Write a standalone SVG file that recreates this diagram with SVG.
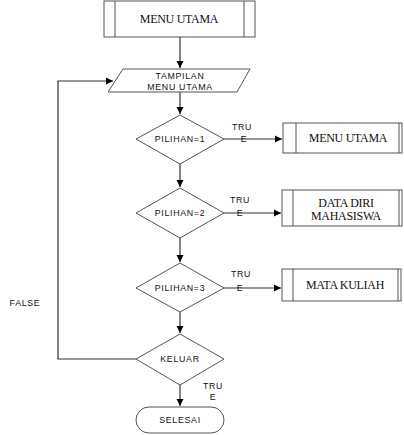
<svg xmlns="http://www.w3.org/2000/svg" width="404" height="435" viewBox="0 0 404 435">
<defs>
<marker id="ah" markerWidth="8" markerHeight="8" refX="7" refY="4" orient="auto" markerUnits="userSpaceOnUse">
<path d="M0,0.5 L7,4 L0,7.5 Z" fill="#000"/>
</marker>
<style>
.shape{fill:#fff;stroke:#555;stroke-width:1}
.ln{fill:none;stroke:#333;stroke-width:1.2}
.serif{font-family:"Liberation Serif","Times New Roman",serif;font-size:12px;fill:#111;text-anchor:middle;letter-spacing:-0.3px}
.sans{font-family:"Liberation Sans",Arial,sans-serif;font-size:8.8px;fill:#111;text-anchor:middle;letter-spacing:0.7px}
</style>
</defs>
<rect width="404" height="435" fill="#fff"/>
<g id="connectors">
<line class="ln" x1="180" y1="37" x2="180" y2="68" marker-end="url(#ah)"/>
<line class="ln" x1="180" y1="92" x2="180" y2="114" marker-end="url(#ah)"/>
<line class="ln" x1="180" y1="164" x2="180" y2="187" marker-end="url(#ah)"/>
<line class="ln" x1="180" y1="238" x2="180" y2="262" marker-end="url(#ah)"/>
<line class="ln" x1="180" y1="312" x2="180" y2="333" marker-end="url(#ah)"/>
<line class="ln" x1="180" y1="385" x2="180" y2="406" marker-end="url(#ah)"/>
<line class="ln" x1="224" y1="139" x2="282" y2="139" marker-end="url(#ah)"/>
<line class="ln" x1="224" y1="213" x2="281" y2="213" marker-end="url(#ah)"/>
<line class="ln" x1="224" y1="288" x2="281" y2="288" marker-end="url(#ah)"/>
<polyline class="ln" points="136,359 58,359 58,81 113,81" marker-end="url(#ah)"/>
<text class="sans" x="242" y="130">TRU</text>
<text class="sans" x="244" y="142">E</text>
<text class="sans" x="240" y="203">TRU</text>
<text class="sans" x="240" y="216">E</text>
<text class="sans" x="241" y="277">TRU</text>
<text class="sans" x="240" y="291">E</text>
<text class="sans" x="213" y="389">TRU</text>
<text class="sans" x="213" y="400">E</text>
<text class="sans" x="25" y="306">FALSE</text>
</g>
<g id="menu-utama-top">
<rect class="shape" x="104" y="1" width="151" height="36"/>
<line class="shape" x1="115" y1="1" x2="115" y2="37"/>
<line class="shape" x1="244" y1="1" x2="244" y2="37"/>
<text class="serif" x="179" y="23">MENU UTAMA</text>
</g>
<g id="tampilan">
<polygon class="shape" points="123,69 250,69 237,92 108,92"/>
<text class="sans" x="180" y="79">TAMPILAN</text>
<text class="sans" x="180" y="90">MENU UTAMA</text>
</g>
<g id="pilihan1">
<polygon class="shape" points="180,115 224,139 180,164 136,139"/>
<text class="sans" x="180" y="142">PILIHAN=1</text>
</g>
<g id="menu-utama-right">
<rect class="shape" x="283" y="123" width="119" height="30"/>
<line class="shape" x1="296" y1="123" x2="296" y2="153"/>
<line class="shape" x1="399" y1="123" x2="399" y2="153"/>
<text class="serif" x="348" y="142">MENU UTAMA</text>
</g>
<g id="data-diri">
<rect class="shape" x="282" y="190" width="120" height="36"/>
<line class="shape" x1="293" y1="190" x2="293" y2="226"/>
<line class="shape" x1="399" y1="190" x2="399" y2="226"/>
<text class="serif" x="346" y="207">DATA DIRI</text>
<text class="serif" x="346" y="220">MAHASISWA</text>
</g>
<g id="pilihan2">
<polygon class="shape" points="180,188 224,213 180,238 136,213"/>
<text class="sans" x="180" y="216">PILIHAN=2</text>
</g>
<g id="pilihan3">
<polygon class="shape" points="180,263 224,288 180,312 136,288"/>
<text class="sans" x="180" y="291">PILIHAN=3</text>
</g>
<g id="mata-kuliah">
<rect class="shape" x="282" y="269" width="119" height="32"/>
<line class="shape" x1="293" y1="269" x2="293" y2="301"/>
<line class="shape" x1="398" y1="269" x2="398" y2="301"/>
<text class="serif" x="345" y="289">MATA KULIAH</text>
</g>
<g id="keluar">
<polygon class="shape" points="180,334 224,359 180,385 136,359"/>
<text class="sans" x="180" y="362">KELUAR</text>
</g>
<g id="selesai">
<rect class="shape" x="136" y="407" width="88" height="26" rx="13" ry="13"/>
<text class="sans" x="180" y="423">SELESAI</text>
</g>
</svg>
